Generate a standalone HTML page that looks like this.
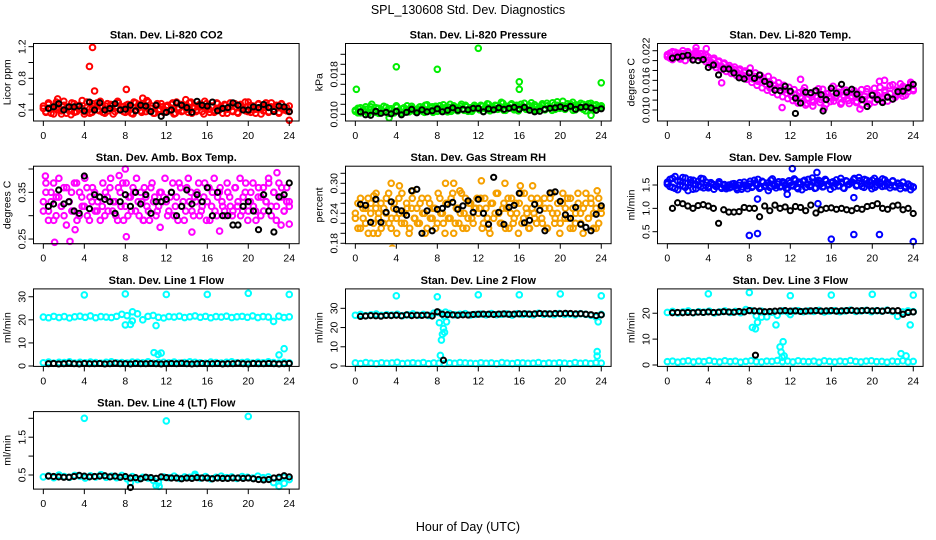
<!DOCTYPE html>
<html><head><meta charset="utf-8"><title>SPL_130608 Std. Dev. Diagnostics</title>
<style>
html,body{margin:0;padding:0;background:#fff;}
svg{display:block;font-family:"Liberation Sans",sans-serif;}
</style></head>
<body>
<svg id="chart" width="936" height="540" viewBox="0 0 936 540" xmlns="http://www.w3.org/2000/svg">
<rect x="0" y="0" width="936" height="540" fill="#fff"/>
<text x="468" y="14" text-anchor="middle" font-size="12.5">SPL_130608  Std. Dev. Diagnostics</text>
<text x="468" y="531" text-anchor="middle" font-size="12.5">Hour of Day (UTC)</text>
</svg>
<script>
// ---------- data ----------
const xTicks=[0,4,8,12,16,20,24];
const xTickLabels=["0","4","8","12","16","20","24"];

const co2Main=[0.42,0.38,0.47,0.36,0.44,0.50,0.40,0.35,0.46,0.43,0.39,0.49,0.37,0.45,0.41,0.52,0.38,0.44,0.36,0.48,0.42,0.40,0.51,0.37,
0.45,0.39,0.47,0.35,0.43,0.49,0.41,0.38,0.46,0.44,0.36,0.50,0.40,0.47,0.37,0.43,0.52,0.39,0.45,0.36,0.48,0.41,0.44,0.38,
0.46,0.40,0.49,0.36,0.43,0.47,0.39,0.45,0.37,0.50,0.42,0.38,0.46,0.44,0.35,0.48,0.41,0.45,0.37,0.49,0.40,0.43,0.47,0.36,
0.44,0.39,0.48,0.37,0.45,0.42,0.50,0.38,0.46,0.40,0.36,0.47,0.43,0.39,0.49,0.37,0.44,0.41,0.46,0.36,0.48,0.40,0.43,0.38];
const co2MainB=[0.45,0.37,0.49,0.41,0.35,0.47,0.43,0.39,0.51,0.36,0.44,0.40,0.48,0.38,0.46,0.42,0.35,0.50,0.41,0.37,0.45,0.49,0.39,0.43,
0.36,0.48,0.42,0.46,0.38,0.51,0.40,0.44,0.37,0.47,0.41,0.35,0.49,0.43,0.39,0.46,0.38,0.50,0.42,0.36,0.45,0.40,0.48,0.37,
0.44,0.39,0.47,0.35,0.50,0.42,0.38,0.46,0.41,0.49,0.36,0.44,0.40,0.47,0.38,0.51,0.43,0.37,0.45,0.39,0.48,0.42,0.36,0.46,
0.41,0.49,0.38,0.44,0.36,0.47,0.42,0.39,0.50,0.37,0.45,0.41,0.48,0.35,0.43,0.46,0.38,0.49,0.40,0.44,0.37,0.47,0.42,0.39,0.45];
const co2Out=[[4.5,0.95],[4.8,1.19],[5.0,0.64],[8.1,0.66],[9.7,0.55],[1.4,0.54],[13.9,0.53],[24,0.27],[2.7,0.34]];
const co2Black=[0.42,0.44,0.48,0.40,0.44,0.44,0.45,0.39,0.50,0.40,0.49,0.40,0.42,0.48,0.40,0.41,0.46,0.39,0.46,0.45,0.38,0.46,0.32,0.37,0.40,0.49,0.46,0.43,0.37,0.51,0.46,0.45,0.50,0.39,0.42,0.43,0.49,0.46,0.40,0.40,0.44,0.43,0.47,0.43,0.38,0.45,0.44,0.38];

const presMain=[.0106,.0112,.0103,.0109,.0115,.0104,.0110,.0107,.0113,.0102,.0108,.0116,.0105,.0111,.0109,.0103,.0114,.0107,.0111,.0104,.0117,.0108,.0112,.0106,
.0110,.0115,.0106,.0118,.0109,.0113,.0104,.0116,.0111,.0107,.0119,.0110,.0114,.0106,.0117,.0109,.0112,.0120,.0108,.0115,.0111,.0106,.0118,.0113,
.0109,.0116,.0112,.0121,.0107,.0114,.0118,.0110,.0115,.0122,.0108,.0113,.0119,.0111,.0116,.0107,.0120,.0114,.0110,.0117,.0123,.0109,.0115,.0112,
.0118,.0111,.0122,.0114,.0108,.0119,.0125,.0112,.0117,.0110,.0121,.0115,.0124,.0109,.0118,.0113,.0120,.0107,.0116,.0122,.0111,.0119,.0114,.0117];
const presMainB=[.0108,.0103,.0113,.0106,.0110,.0101,.0115,.0107,.0104,.0112,.0109,.0105,.0114,.0102,.0111,.0106,.0117,.0108,.0103,.0113,.0110,.0105,.0116,.0109,
.0107,.0114,.0111,.0104,.0119,.0108,.0115,.0112,.0106,.0117,.0110,.0113,.0105,.0120,.0109,.0114,.0107,.0116,.0111,.0118,.0106,.0113,.0110,.0115,
.0112,.0118,.0106,.0115,.0120,.0109,.0113,.0117,.0111,.0124,.0108,.0116,.0114,.0121,.0109,.0118,.0112,.0115,.0122,.0110,.0117,.0113,.0119,.0108,
.0115,.0121,.0109,.0117,.0113,.0123,.0110,.0118,.0114,.0126,.0111,.0116,.0120,.0108,.0119,.0114,.0122,.0110,.0117,.0121,.0112,.0118,.0109,.0115,.0113];
const presOut=[[0.1,0.0150],[1.6,0.0120],[4,0.0195],[8,0.0190],[12,0.0232],[16,0.0165],[16,0.0150],[24,0.0163],[23,0.0098],[3.3,0.0093]];
const presBlack=[.0105,.0099,.0098,.0106,.0102,.0104,.0101,.0106,.0099,.0104,.0110,.0103,.0109,.0105,.0107,.0111,.0105,.0108,.0113,.0108,.0110,.0109,.0112,.0112,.0105,.0111,.0109,.0113,.0110,.0112,.0114,.0110,.0114,.0108,.0105,.0106,.0110,.0112,.0113,.0115,.0112,.0116,.0110,.0114,.0115,.0113,.0108,.0111];

const tempMain=[.0212,.0205,.0218,.0209,.0215,.0203,.0220,.0210,.0216,.0207,.0213,.0219,.0208,.0214,.0204,.0211,.0200,.0196,.0205,.0192,.0199,.0188,.0195,.0184,
.0190,.0180,.0187,.0176,.0183,.0171,.0179,.0168,.0185,.0163,.0175,.0158,.0170,.0165,.0152,.0168,.0147,.0160,.0143,.0155,.0138,.0150,.0134,.0146,
.0128,.0141,.0118,.0135,.0124,.0145,.0113,.0131,.0120,.0138,.0126,.0115,.0142,.0122,.0133,.0117,.0148,.0125,.0136,.0112,.0130,.0140,.0119,.0128,
.0134,.0115,.0126,.0141,.0121,.0137,.0112,.0130,.0144,.0124,.0135,.0118,.0140,.0127,.0149,.0122,.0138,.0131,.0153,.0128,.0145,.0137,.0156,.0142];
const tempMainB=[.0208,.0215,.0202,.0217,.0211,.0206,.0214,.0200,.0218,.0209,.0203,.0216,.0212,.0206,.0210,.0198,.0207,.0191,.0201,.0186,.0197,.0182,.0193,.0178,
.0186,.0174,.0182,.0170,.0180,.0166,.0176,.0162,.0173,.0156,.0168,.0150,.0163,.0145,.0158,.0140,.0155,.0136,.0150,.0131,.0146,.0127,.0141,.0123,
.0136,.0119,.0132,.0114,.0127,.0139,.0110,.0124,.0133,.0116,.0128,.0143,.0121,.0131,.0112,.0126,.0137,.0118,.0129,.0144,.0115,.0127,.0134,.0113,
.0125,.0139,.0117,.0132,.0110,.0128,.0143,.0120,.0133,.0116,.0130,.0146,.0123,.0136,.0118,.0133,.0151,.0126,.0140,.0134,.0148,.0130,.0144,.0152,.0139];
const tempOut=[[2.8,0.0226],[3.8,0.0224],[11.2,0.0105],[14.2,0.0108],[15.3,0.0103],[18.8,0.0102],[13,0.0162],[21.2,0.0160],[20.7,0.0158],[5.3,0.0155],[10,0.0145]];
const tempBlack=[.0205,.0207,.0209,.0211,.0201,.0200,.0202,.0186,.0191,.0171,.0183,.0183,.0175,.0165,.0163,.0175,.0164,.0171,.0158,.0152,.0140,.0139,.0148,.0138,.0124,.0114,.0136,.0135,.0139,.0131,.0121,.0144,.0134,.0152,.0136,.0142,.0132,.0121,.0107,.0130,.0121,.0115,.0126,.0122,.0137,.0138,.0145,.0152];
const tempBlackOut=[[12.5,0.0093],[15.2,0.0098]];

const ambMain=[.33,.37,.31,.35,.29,.34,.38,.32,.30,.36,.33,.31,.37,.29,.35,.32,.38,.30,.34,.36,.31,.33,.29,.37,
.35,.31,.38,.33,.30,.36,.32,.29,.37,.34,.31,.35,.38,.30,.33,.36,.32,.29,.37,.34,.31,.35,.33,.38,
.30,.34,.37,.32,.29,.36,.33,.31,.38,.35,.30,.33,.37,.31,.34,.29,.36,.32,.38,.30,.35,.33,.31,.37,
.34,.30,.36,.32,.38,.31,.35,.29,.33,.37,.31,.34,.30,.36,.33,.38,.32,.35,.29,.37,.34,.31,.36,.33];
const ambMainB=[.31,.35,.29,.33,.37,.30,.34,.32,.36,.28,.33,.35,.31,.37,.30,.34,.32,.36,.29,.33,.35,.31,.34,.32,
.30,.34,.36,.31,.33,.29,.35,.37,.32,.30,.34,.36,.31,.33,.35,.29,.34,.31,.36,.33,.30,.32,.35,.34,
.33,.31,.35,.30,.34,.37,.32,.29,.36,.33,.31,.34,.35,.30,.32,.37,.33,.29,.35,.31,.34,.36,.32,.30,
.35,.32,.31,.36,.33,.30,.34,.37,.31,.35,.32,.29,.36,.34,.31,.33,.37,.30,.35,.32,.34,.36,.31,.33,.32];
const ambOut=[[0.2,0.385],[1.1,0.243],[2.6,0.245],[3.1,0.27],[8,0.40],[8.1,0.255],[14.5,0.265],[17.2,0.267],[23.2,0.28],[24,0.282],[22.8,0.392],[7.4,0.386],[11.4,0.275],[9.8,0.29]];
const ambBlack=[.32,.325,.355,.325,.33,.31,.305,.385,.315,.345,.34,.335,.33,.305,.33,.345,.32,.35,.325,.345,.305,.33,.33,.335,.35,.30,.32,.355,.325,.345,.33,.36,.30,.35,.30,.30,.28,.28,.32,.33,.31,.27,.345,.31,.265,.34,.345,.37];

const rhMain=[.24,.21,.27,.23,.25,.20,.26,.22,.28,.24,.21,.25,.27,.22,.23,.26,.20,.24,.28,.22,.25,.21,.27,.23,
.22,.26,.24,.20,.27,.23,.25,.21,.28,.24,.22,.26,.23,.27,.20,.25,.22,.28,.24,.21,.26,.23,.25,.27,
.25,.21,.27,.23,.20,.26,.24,.28,.22,.25,.21,.27,.24,.22,.26,.20,.28,.23,.25,.21,.27,.24,.22,.26,
.23,.27,.21,.25,.28,.22,.24,.20,.26,.23,.27,.21,.25,.22,.28,.24,.20,.26,.23,.27,.21,.25,.22,.24];
const rhMainB=[.23,.26,.21,.25,.22,.27,.24,.20,.25,.23,.26,.22,.24,.28,.21,.25,.23,.27,.22,.24,.26,.20,.25,.23,
.25,.22,.27,.24,.21,.26,.23,.25,.22,.27,.24,.20,.26,.23,.28,.22,.25,.24,.21,.27,.23,.26,.22,.25,
.24,.27,.22,.25,.21,.26,.23,.28,.24,.22,.26,.25,.21,.27,.23,.24,.26,.22,.28,.24,.21,.25,.23,.27,
.26,.22,.25,.21,.27,.24,.23,.26,.22,.28,.25,.23,.27,.21,.24,.26,.22,.25,.28,.23,.26,.24,.21,.27,.25];
const rhOut=[[3.5,0.30],[3.6,0.17],[2.2,0.20],[4.3,0.295],[8.8,0.30],[9.6,0.30],[14.6,0.30],[12.3,0.305],[16.1,0.295],[17.3,0.295],[5.6,0.285],[10.2,0.285],[23.6,0.285],[1.8,0.275]];
const rhBlack=[.258,.256,.222,.268,.222,.242,.263,.248,.245,.236,.285,.288,.200,.245,.205,.248,.250,.258,.262,.248,.255,.265,.242,.268,.240,.218,.312,.242,.218,.252,.256,.280,.221,.226,.258,.246,.205,.281,.283,.264,.237,.230,.252,.218,.212,.205,.238,.255];

const flowMain=[1.52,1.62,1.45,1.68,1.40,1.58,1.48,1.65,1.38,1.55,1.60,1.42,1.50,1.64,1.44,1.56,1.47,1.53,1.41,1.49,1.57,1.43,1.51,1.46,
1.44,1.52,1.48,1.40,1.55,1.46,1.50,1.42,1.58,1.47,1.53,1.62,1.45,1.56,1.49,1.38,1.60,1.51,1.44,1.57,1.48,1.54,1.42,1.59,
1.50,1.63,1.45,1.56,1.40,1.60,1.52,1.47,1.65,1.43,1.55,1.58,1.46,1.62,1.50,1.41,1.57,1.53,1.48,1.64,1.44,1.59,1.51,1.55,
1.62,1.48,1.66,1.53,1.45,1.60,1.57,1.42,1.64,1.50,1.55,1.47,1.61,1.52,1.44,1.58,1.49,1.54,1.42,1.56,1.47,1.51,1.40,1.45];
const flowMainB=[1.56,1.47,1.64,1.43,1.59,1.50,1.66,1.45,1.54,1.61,1.41,1.52,1.58,1.46,1.63,1.49,1.44,1.55,1.51,1.47,1.53,1.45,1.49,1.42,
1.50,1.46,1.53,1.44,1.49,1.41,1.56,1.48,1.52,1.45,1.60,1.50,1.43,1.58,1.47,1.54,1.45,1.63,1.49,1.52,1.46,1.57,1.50,1.44,
1.55,1.48,1.60,1.42,1.53,1.58,1.45,1.62,1.50,1.56,1.44,1.60,1.53,1.47,1.59,1.51,1.55,1.46,1.61,1.49,1.56,1.43,1.58,1.52,
1.57,1.64,1.50,1.59,1.47,1.62,1.53,1.49,1.60,1.45,1.58,1.52,1.63,1.48,1.55,1.50,1.59,1.46,1.53,1.49,1.56,1.44,1.52,1.48,1.46];
const flowOut=[[8,0.42],[8.8,0.46],[16,0.34],[18.2,0.44],[20.7,0.44],[24,0.29],[12.2,1.85],[14.6,1.77],[8.8,1.2],[18.2,1.23],[11.7,1.3],[14.7,1.1]];
const flowBlack=[1.0,1.12,1.10,1.05,1.00,1.06,1.08,1.05,1.00,0.68,0.97,0.92,0.92,0.93,1.02,1.00,1.00,0.82,1.05,0.95,1.07,1.00,1.03,0.95,1.04,1.02,0.95,1.07,0.90,0.97,1.00,1.01,0.98,1.00,0.97,0.95,1.00,0.98,1.04,1.06,1.10,1.00,0.98,1.05,1.07,0.97,1.00,0.89];

const l1High=[21.2,20.9,21.5,21.0,21.4,20.8,21.3,21.6,21.1,21.7,20.9,21.4,21.2,21.0,21.5,22.4,21.8,19.5,22.6,20.0,21.5,21.9,21.1,20.8,21.4,21.2,21.6,21.0,21.3,21.7,21.1,21.5,20.9,21.4,21.2,21.6,21.0,21.3,21.5,21.1,21.7,21.0,21.4,21.2,19.3,21.6,21.0,21.3];
const l1Low=[1.4,1.7,1.2,1.6,1.5,1.8,1.3,1.6,1.4,1.7,1.5,1.2,1.6,1.8,1.4,1.5,1.3,1.7,1.6,1.4,1.8,1.2,1.5,1.6,1.4,1.7,1.3,1.5,1.8,1.6,1.4,1.2,1.7,1.5,1.3,1.6,1.8,1.4,1.5,1.7,1.3,1.6,1.4,1.8,1.5,1.2,1.6,1.4];
const l1Out=[[4,30.8],[8,31.2],[12,31],[16,31],[20,31.5],[24,31],[10.8,5.8],[11.2,5],[11.5,5.6],[23,4.8],[23.5,7.5],[8.7,23.5],[11,17.5],[8,17.8],[8.5,18]];
const l1Black=[1.0,1.1,0.9,1.0,1.2,1.0,0.9,1.1,1.0,1.0,1.1,0.9,1.0,1.2,1.0,1.0,0.9,1.1,1.0,1.0,1.1,1.0,0.9,1.0,1.1,1.0,1.2,1.0,0.9,1.0,1.1,1.0,1.0,1.1,0.9,1.0,1.0,1.2,1.0,0.9,1.1,1.0,1.0,1.1,1.0,0.9,1.0,1.1];

const l2High=[26.4,26.8,26.2,26.6,27.0,26.3,26.7,26.5,26.9,26.2,26.6,27.1,26.4,26.8,26.3,27.5,27.8,25.8,27.3,26.6,26.9,27.2,26.5,26.8,27.0,26.6,27.3,26.7,26.9,27.1,26.5,27.2,26.8,27.0,26.6,27.4,26.9,27.1,26.7,27.3,26.8,27.0,26.6,27.2,26.9,26.4,25.5,26.8];
const l2Low=[1.6,1.3,1.8,1.5,1.2,1.7,1.4,1.6,1.9,1.3,1.5,1.7,1.4,1.8,1.2,1.6,1.5,1.3,1.7,1.4,1.8,1.6,1.5,1.3,1.7,1.4,1.6,1.2,1.8,1.5,1.3,1.7,1.6,1.4,1.5,1.8,1.3,1.6,1.4,1.7,1.5,1.2,1.8,1.4,1.6,1.3,1.7,1.5];
const l2Out=[[4,36.5],[8,36],[12,37],[16,37],[20,37.5],[24,36.5],[8.2,22.5],[8.4,13.5],[8.5,16.5],[8.6,19.5],[8.7,17.5],[8.3,5.5],[23.6,7.5],[23.6,5.2],[23.7,23],[8.9,23],[8.8,28]];
const l2Black=[25.8,26.0,26.2,26.1,25.9,26.3,26.2,26.4,26.1,26.6,26.2,26.4,26.3,26.5,26.0,28.2,26.9,26.7,26.6,26.4,26.6,26.5,26.8,26.9,27.0,26.9,26.8,27.0,27.1,26.9,27.0,27.1,27.2,27.0,27.1,27.3,27.2,27.1,27.3,27.2,27.4,27.3,27.1,27.2,26.9,26.7,26.2,26.6];
const l2BlackOut=[[8.6,3.0]];

const l3High=[20.3,20.7,20.1,20.5,20.9,20.2,20.6,20.4,20.8,20.1,20.5,20.9,20.3,20.7,20.2,21.4,21.0,19.0,20.8,18.6,20.4,19.2,20.9,20.5,20.8,21.0,20.6,20.9,20.7,21.1,20.5,20.8,21.0,20.6,20.9,21.2,20.7,20.9,21.1,20.6,21.0,20.8,21.2,20.7,18.8,20.5,20.9,20.6];
const l3Low=[1.3,1.5,1.1,1.4,1.6,1.2,1.5,1.3,1.7,1.4,1.2,1.6,1.3,1.5,1.1,1.4,1.6,1.3,1.2,1.5,1.4,1.7,1.3,1.5,1.2,1.6,1.4,1.3,1.5,1.1,1.6,1.4,1.2,1.5,1.3,1.7,1.4,1.2,1.5,1.6,1.3,1.4,1.1,1.5,1.3,1.6,1.2,1.4];
const l3Out=[[4,27.5],[8,28],[12,26.8],[16,27],[20,27.3],[24,27],[8.3,14.5],[8.6,14],[8.8,16.5],[9.2,18.5],[10.6,15.5],[11,7],[11.1,5],[11.3,9],[11.4,3.5],[11.2,3],[22.8,4.4],[23.3,3.5],[23.7,15.5],[12,19.5]];
const l3Black=[20.2,20.3,20.2,20.3,20.2,20.4,20.3,20.5,20.3,20.4,20.6,20.5,20.4,20.7,20.5,21.0,20.9,20.8,20.6,20.7,20.8,20.9,21.0,20.8,20.9,20.7,20.8,20.9,21.0,20.8,20.9,21.0,20.8,20.9,21.0,21.1,20.9,21.0,21.1,20.9,21.0,20.8,21.1,20.9,21.0,19.6,20.3,20.5];
const l3BlackOut=[[8.6,3.8]];

const l4Main=[.45,.48,.43,.50,.46,.44,.49,.47,.42,.48,.45,.51,.44,.47,.43,.49,.40,.46,.38,.44,.42,.36,.30,.45,.43,.47,.41,.45,.44,.48,.42,.46,.40,.44,.47,.43,.45,.41,.46,.44,.42,.47,.43,.45,.30,.40,.44,.38];
const l4Out=[[4,2.0],[12,1.93],[20,2.05],[11,0.22],[11.3,0.2],[23,0.2],[23.5,0.28],[14.8,0.52],[8.5,0.3]];
const l4Black=[.47,.46,.45,.44,.44,.46,.49,.47,.45,.46,.47,.48,.45,.47,.44,.46,.42,.43,.40,.44,.43,.41,.45,.43,.42,.42,.40,.42,.41,.43,.42,.42,.40,.42,.41,.41,.42,.42,.41,.42,.40,.38,.37,.38,.42,.44,.48,.45];
const l4BlackOut=[[8.5,0.17]];

// ---------- panel definitions ----------
const panels=[
 {id:"co2",col:0,row:0,title:"Stan. Dev. Li-820 CO2",ylab:"Licor ppm",dom:[0.261,1.240],ticks:[0.4,0.6,0.8,1.0,1.2],labels:["0.4","","0.8","","1.2"],color:"#ff0000",main:[co2Main,co2MainB],out:co2Out,black:co2Black,bout:[]},
 {id:"pressure",col:1,row:0,title:"Stan. Dev. Li-820 Pressure",ylab:"kPa",dom:[0.00866,0.02416],ticks:[.010,.012,.014,.016,.018,.020,.022],labels:["0.010","","","","0.018","",""],color:"#00ee00",main:[presMain,presMainB],out:presOut,black:presBlack,bout:[]},
 {id:"temp",col:2,row:0,title:"Stan. Dev. Li-820 Temp.",ylab:"degrees C",dom:[0.00777,0.02346],ticks:[.010,.012,.014,.016,.018,.020,.022],labels:["0.010","","","0.016","","","0.022"],color:"#ff00ff",main:[tempMain,tempMainB],out:tempOut,black:tempBlack,bout:tempBlackOut},
 {id:"ambbox",col:0,row:1,title:"Stan. Dev. Amb. Box Temp.",ylab:"degrees C",dom:[0.240,0.406],ticks:[.25,.30,.35,.40],labels:["0.25","","0.35",""],color:"#ff00ff",main:[ambMain,ambMainB],out:ambOut,black:ambBlack,bout:[]},
 {id:"rh",col:1,row:1,title:"Stan. Dev. Gas Stream RH",ylab:"percent",dom:[0.1792,0.3342],ticks:[.18,.20,.22,.24,.26,.28,.30,.32],labels:["0.18","","","0.24","","","0.30",""],color:"#f5a000",main:[rhMain,rhMainB],out:rhOut,black:rhBlack,bout:[]},
 {id:"sampleflow",col:2,row:1,title:"Stan. Dev. Sample Flow",ylab:"ml/min",dom:[0.243,1.903],ticks:[0.5,1.0,1.5],labels:["0.5","1.0","1.5"],color:"#0000ff",main:[flowMain,flowMainB],out:flowOut,black:flowBlack,bout:[]},
 {id:"line1",col:0,row:2,title:"Stan. Dev. Line 1 Flow",ylab:"ml/min",dom:[-0.17,33.4],ticks:[0,10,20,30],labels:["0","10","20","30"],color:"#00ffff",main:[l1High,l1Low],out:l1Out,black:l1Black,bout:[]},
 {id:"line2",col:1,row:2,title:"Stan. Dev. Line 2 Flow",ylab:"ml/min",dom:[-0.2,40.1],ticks:[0,10,20,30],labels:["0","10","20","30"],color:"#00ffff",main:[l2High,l2Low],out:l2Out,black:l2Black,bout:l2BlackOut},
 {id:"line3",col:2,row:2,title:"Stan. Dev. Line 3 Flow",ylab:"ml/min",dom:[-0.54,29.4],ticks:[0,10,20],labels:["0","10","20"],color:"#00ffff",main:[l3High,l3Low],out:l3Out,black:l3Black,bout:l3BlackOut},
 {id:"line4",col:0,row:3,title:"Stan. Dev. Line 4 (LT) Flow",ylab:"ml/min",dom:[0.127,2.177],ticks:[0.5,1.0,1.5,2.0],labels:["0.5","","1.5",""],color:"#00ffff",main:[l4Main],out:l4Out,black:l4Black,bout:l4BlackOut}
];

// ---------- drawing ----------
const NS="http://www.w3.org/2000/svg";
const svg=document.getElementById("chart");
const PW=265.6, PH=77.5, RAD=2.8, SW=2.0;
function mk(tag,attrs,parent){const e=document.createElementNS(NS,tag);for(const k in attrs)e.setAttribute(k,attrs[k]);parent.appendChild(e);return e;}

panels.forEach(p=>{
  const L=33.5+312*p.col, T=43.5+122.7*p.row, B=T+PH, R=L+PW;
  const xs=v=>L+(v+0.96)/25.92*PW;
  const ys=v=>B-(v-p.dom[0])/(p.dom[1]-p.dom[0])*PH;
  const g=mk("g",{},svg);
  
  
  const cp=mk("clipPath",{id:"clip-"+p.id},g);
  mk("rect",{x:L-3,y:T-3,width:PW+6,height:PH+6},cp);
  const t=mk("text",{x:(L+R)/2,y:T-5,"text-anchor":"middle","font-size":"11","font-weight":"bold"},g);
  t.textContent=p.title;
  
  
  const yl=mk("text",{x:0,y:0,"text-anchor":"middle","font-size":"10.5",transform:`translate(${L-23},${(T+B)/2}) rotate(-90)`},g);
  yl.textContent=p.ylab;
  
  
  const marks=mk("g",{"clip-path":`url(#clip-${p.id})`,fill:"none"},g);
  
  
  p.main.forEach(arr=>{
    arr.forEach((v,i)=>{
      const hr=i*24/(arr.length-1);
      const c=mk("circle",{cx:xs(hr),cy:ys(v),r:RAD,stroke:p.color,"stroke-width":SW},marks);
      
      
    });
  });
  p.out.forEach(d=>{
    const c=mk("circle",{cx:xs(d[0]),cy:ys(d[1]),r:RAD,stroke:p.color,"stroke-width":SW},marks);
    
    
  });
  p.black.forEach((v,i)=>{
    const hr=0.5+i*23.5/(p.black.length-1);
    const c=mk("circle",{cx:xs(hr),cy:ys(v),r:2.6,stroke:"#000","stroke-width":2},marks);
    
    
  });
  p.bout.forEach(d=>{
    const c=mk("circle",{cx:xs(d[0]),cy:ys(d[1]),r:2.6,stroke:"#000","stroke-width":2},marks);
    
    
  });
  const bx=mk("rect",{x:L,y:T,width:PW,height:PH,fill:"none",stroke:"#000","stroke-width":1},g);
  
  
  const xa=mk("g",{stroke:"#000","stroke-width":1},g);
  
  
  mk("line",{x1:xs(xTicks[0]),x2:xs(xTicks[xTicks.length-1]),y1:B,y2:B},xa);
  xTicks.forEach((v,i)=>{
    mk("line",{x1:xs(v),x2:xs(v),y1:B,y2:B+5},xa);
    const tl=mk("text",{x:xs(v),y:B+18,"text-anchor":"middle","font-size":"10.5",stroke:"none",fill:"#000"},xa);
    tl.textContent=xTickLabels[i];
    
    
  });
  const ya=mk("g",{stroke:"#000","stroke-width":1},g);
  
  
  mk("line",{x1:L,x2:L,y1:ys(p.ticks[0]),y2:ys(p.ticks[p.ticks.length-1])},ya);
  p.ticks.forEach((v,i)=>{
    mk("line",{x1:L-5,x2:L,y1:ys(v),y2:ys(v)},ya);
    if(p.labels[i]){
      const tl=mk("text",{x:0,y:0,"text-anchor":"middle","font-size":"10.5",stroke:"none",fill:"#000",transform:`translate(${L-8},${ys(v)}) rotate(-90)`},ya);
      tl.textContent=p.labels[i];
      
      
    }
  });
});
</script>
</body></html>
